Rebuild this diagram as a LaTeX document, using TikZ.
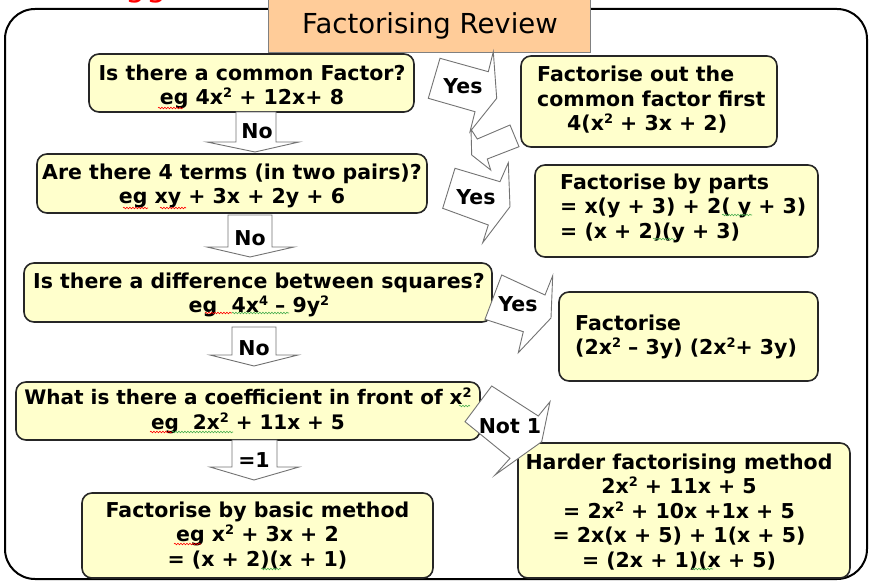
\documentclass[tikz,border=0pt]{standalone}
\usepackage{fontspec}
\setmainfont{DejaVu Sans}
\usetikzlibrary{decorations.pathmorphing}
\definecolor{boxfill}{HTML}{FFFFCC}
\definecolor{titlefill}{HTML}{FFCC99}
\definecolor{squiggreen}{HTML}{4CAF50}
\newcommand\boxfont{\fontsize{20.5}{24.5}\selectfont\bfseries}
\newcommand\sq[1]{\raisebox{7pt}{\fontsize{13}{13}\selectfont #1}}
\tikzset{
  qbox/.style={draw=black!85, line width=1.6pt, fill=boxfill, rounded corners=10pt, inner sep=0pt},
  qtext/.style={align=center, font=\boxfont, inner sep=0pt},
  ltext/.style={align=left, font=\boxfont, inner sep=0pt, anchor=west},
  barrow/.style={draw=black!55, line width=0.9pt, fill=white, line join=miter},
  alabel/.style={font=\boxfont, inner sep=0pt},
  squig/.style={line width=0.6pt, decorate, decoration={snake, amplitude=0.8pt, segment length=3pt}},
}
\begin{document}
\begin{tikzpicture}[x=1pt,y=-1pt]
\useasboundingbox (0,0) rectangle (873,583);
% cut-off red text at the top
\node[anchor=base, text=red, font=\fontsize{32}{32}\selectfont, inner sep=0pt] (cut) at (146,-3.5) {gg};
% outer frame
\draw[line width=2pt, rounded corners=30pt] (5,9) rectangle (867,579);
% title
\node[draw=black!50, line width=0.8pt, fill=titlefill, minimum width=322, minimum height=53,
  inner sep=0pt] (title) at (429.5,25.5) {};
\node[font=\fontsize{27.5}{27.5}\selectfont, inner sep=0pt] (titletext) at (430,26) {Factorising Review};

% question boxes
\node[qbox, minimum width=325, minimum height=58] (b1) at (251.5,83) {};
\node[qtext] (b1t) at (252,87) {Is there a common Factor?\\eg 4x\sq{2} + 12x+ 8};
\node[qbox, minimum width=390, minimum height=59] (b2) at (232,183.5) {};
\node[qtext] (b2t) at (232,186) {Are there 4 terms (in two pairs)?\\eg xy + 3x + 2y + 6};
\node[qbox, minimum width=468, minimum height=59] (b3) at (258,292.5) {};
\node[qtext] (b3t) at (259,295) {Is there a difference between squares?\\eg\ \ 4x\sq{4} – 9y\sq{2}};
\node[qbox, minimum width=464, minimum height=58] (b4) at (248,411) {};
\node[qtext, font=\fontsize{20}{24.5}\selectfont\bfseries] (b4t) at (248,411) {What is there a coefficient in front of x\sq{2}\\eg\ \ 2x\sq{2} + 11x + 5};
\node[qbox, minimum width=351, minimum height=85] (bb) at (257.5,535.5) {};
\node[qtext] (bbt) at (257.5,535.5) {Factorise by basic method\\eg x\sq{2} + 3x + 2\\= (x + 2)(x + 1)};

% result boxes
\node[qbox, minimum width=256, minimum height=91] (r1) at (649,101.5) {};
\node[ltext] (r1t) at (537,100) {Factorise out the\\common factor first\\\hspace*{30pt}4(x\sq{2} + 3x + 2)};
\node[qbox, minimum width=283, minimum height=92] (r2) at (676.5,211) {};
\node[ltext] (r2t) at (560,208) {Factorise by parts\\= x(y + 3) + 2( y + 3)\\= (x + 2)(y + 3)};
\node[qbox, minimum width=259, minimum height=89] (r3) at (688.5,336.5) {};
\node[ltext] (r3t) at (575,337) {Factorise\\(2x\sq{2} – 3y) (2x\sq{2}+ 3y)};
\node[qbox, minimum width=332, minimum height=135] (r4) at (684,510.5) {};
\node[qtext] (r4t) at (679,512) {Harder factorising method\\2x\sq{2} + 11x + 5\\= 2x\sq{2} + 10x +1x + 5\\= 2x(x + 5) + 1(x + 5)\\= (2x + 1)(x + 5)};

% spell-check squiggles
\draw[squig, red] (158,108) -- (183,108);
\draw[squig, red] (123,208) -- (148,208);
\draw[squig, red] (160,208) -- (186,208);
\draw[squig, red] (205,313) -- (232,313);
\draw[squig, squiggreen] (232,313) -- (289,313);
\draw[squig, squiggreen] (459,406) -- (470,406);
\draw[squig, red] (150,432) -- (172,432);
\draw[squig, squiggreen] (172,432) -- (233,432);
\draw[squig, squiggreen] (722,215) -- (752,215);
\draw[squig, squiggreen] (653,239) -- (675,239);
\draw[squig, red] (174,544) -- (201,544);
\draw[squig, squiggreen] (261,569) -- (281,569);
\draw[squig, squiggreen] (692,569) -- (713,569);

% downward block arrows
\draw[barrow] (236,112) -- (276,112) -- (276,142) -- (299,142) -- (255,152) -- (207,142) -- (236,142) -- cycle;
\node[alabel] (no1) at (257,131) {No};
\draw[barrow] (228,215) -- (272,215) -- (272,247) -- (294,247) -- (250,257) -- (207,247) -- (228,247) -- cycle;
\node[alabel] (no2) at (250,238) {No};
\draw[barrow] (232,327) -- (276,327) -- (276,355) -- (298,355) -- (254,366) -- (210,355) -- (232,355) -- cycle;
\node[alabel] (no3) at (254,348) {No};
\draw[barrow] (232,440) -- (277,440) -- (277,467) -- (299,467) -- (254,480) -- (210,467) -- (232,467) -- cycle;
\node[alabel] (eq1) at (254,460) {=1};

% slanted block arrows
\draw[barrow] (440,58.3) -- (488.3,71.7) -- (493.3,51.7) -- (496.7,98.3) -- (470,131.7) -- (475,111.7) -- (428.3,98.3) -- cycle;
\node[alabel] (yes1) at (463,86) {Yes};
\draw[barrow] (471,129.3) -- (477.3,139) -- (510,125) -- (519,146.7) -- (487.3,159) -- (490.7,170) -- (471.7,155) -- cycle;
\draw[barrow] (455,168.3) -- (500,181.7) -- (508.3,162.7) -- (510,206.7) -- (482.7,242.7) -- (488.3,225) -- (442.7,208.3) -- cycle;
\node[alabel] (yes2) at (476,197) {Yes};
\draw[barrow] (501.7,275) -- (545,295) -- (552.7,275.7) -- (551,318) -- (518.3,352.7) -- (523.3,331.7) -- (485,319.3) -- cycle;
\node[alabel] (yes3) at (518,304) {Yes};
\draw[barrow] (491.7,386) -- (538.3,416) -- (550,401.7) -- (541.7,441.7) -- (495,475) -- (510,458.3) -- (465,421.7) -- cycle;
\node[alabel] (not1) at (510,426) {Not 1};
\end{tikzpicture}
\end{document}
